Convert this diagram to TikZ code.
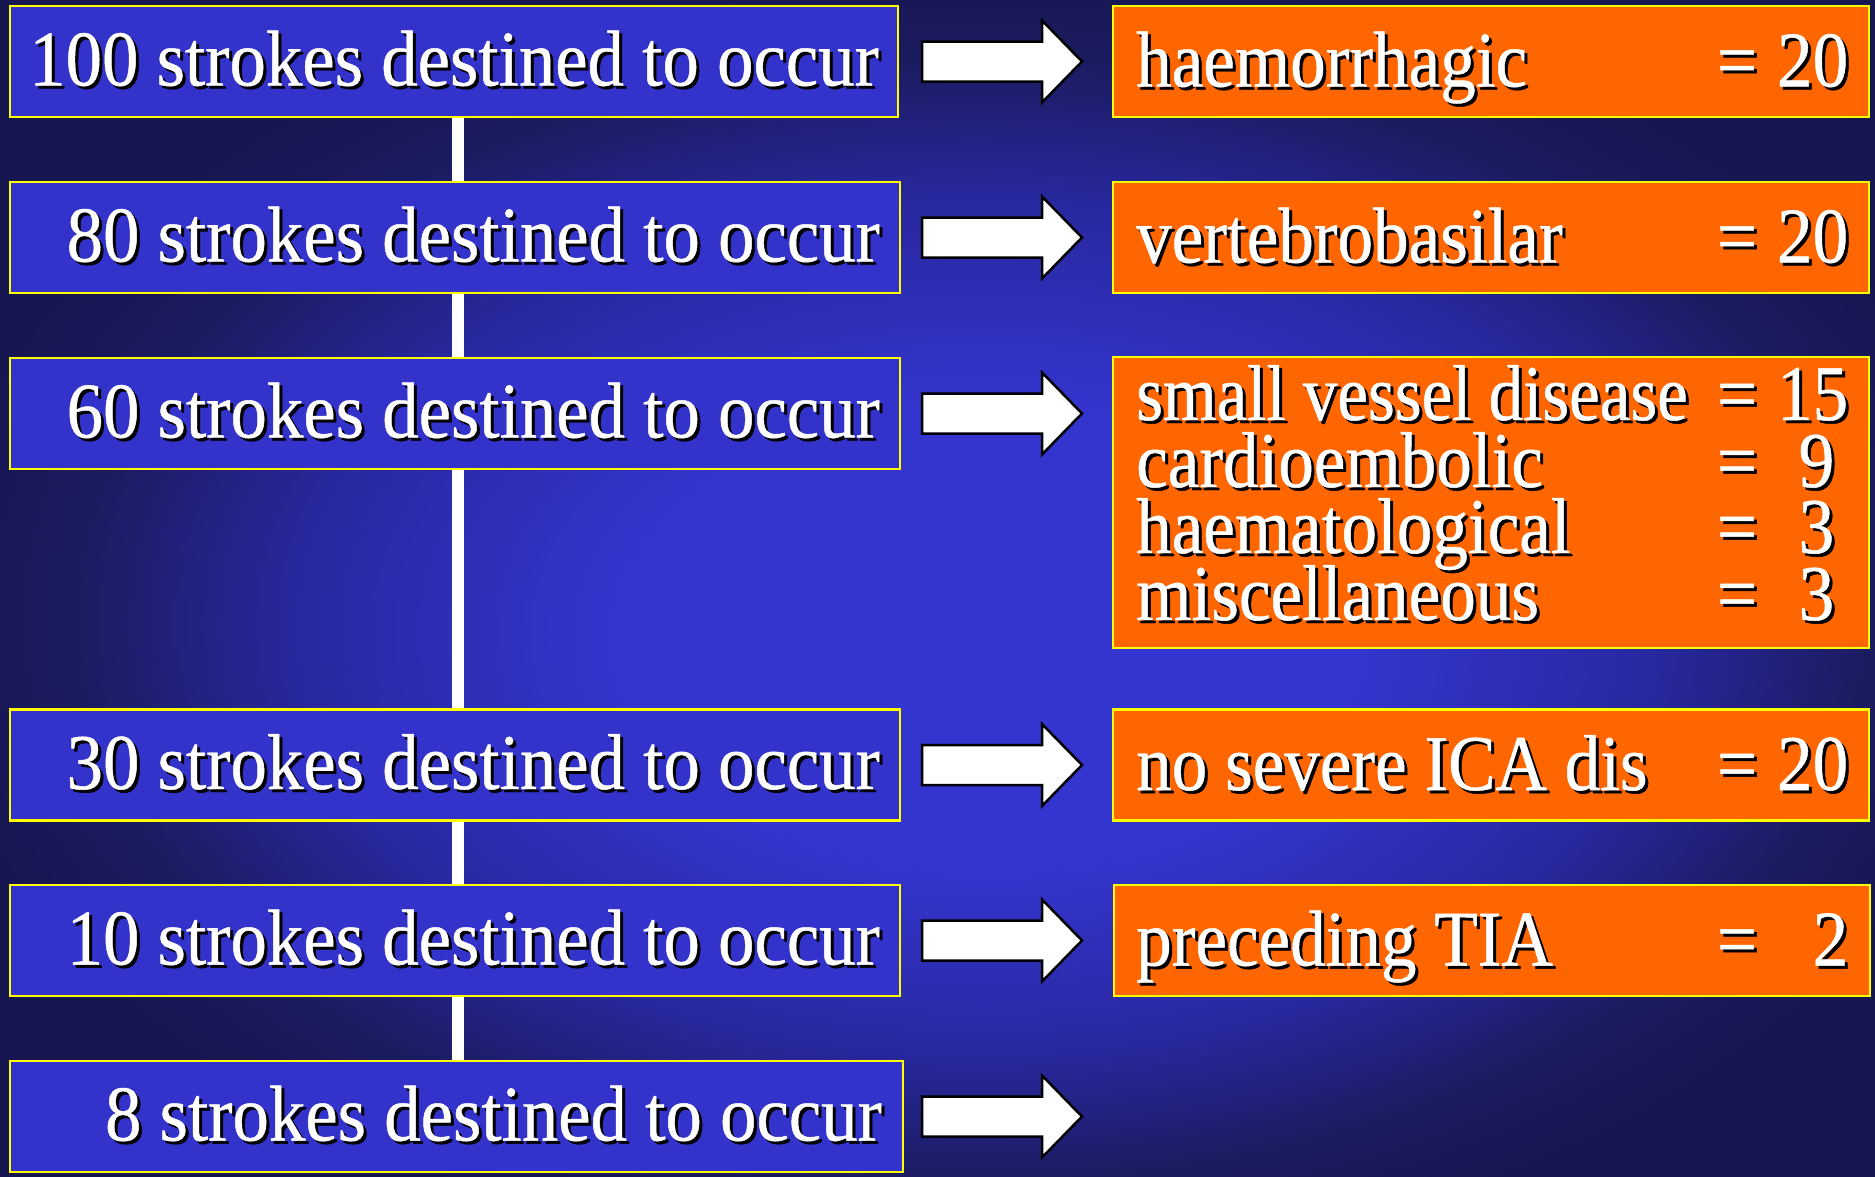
\documentclass[tikz,border=0pt]{standalone}
\usepackage{fontspec}
\setmainfont{Liberation Serif}[FakeStretch=0.9,FakeBold=0.6]
\newfontfamily\bluefont{Liberation Serif}[FakeStretch=0.922,FakeBold=0.6]
\definecolor{boxblue}{HTML}{3333CC}
\definecolor{boxorange}{HTML}{FF6600}
\definecolor{boxyellow}{HTML}{FFFF00}
\definecolor{bgA}{HTML}{3434CE}
\definecolor{bgB}{HTML}{2828A0}
\definecolor{bgC}{HTML}{1B1B60}
\definecolor{bgD}{HTML}{161650}
\pgfdeclareradialshading{bgshade}{\pgfpoint{1.7bp}{-2.6bp}}{color(0bp)=(bgA); color(10bp)=(bgA); color(18bp)=(bgB); color(24bp)=(bgC); color(28bp)=(bgD); color(50bp)=(bgD)}
\pgfdeclarelayer{bglayer}
\pgfsetlayers{bglayer,main}
\newcommand\shd[1]{\makebox[0pt][l]{\hspace*{3pt}\raisebox{-3pt}[0pt][0pt]{\textcolor{black}{#1}}}#1}
\newcommand\orow[3][0pt]{\makebox[712pt][l]{\shd{#2}\hfill\shd{=}\makebox[91pt][r]{\shd{#3}\hspace*{#1}}}}
\tikzset{
  bluebox/.style={draw=boxyellow, line width=2.5pt, fill=boxblue, minimum height=111pt, inner sep=0pt},
  orangebox/.style={draw=boxyellow, line width=2.5pt, fill=boxorange, minimum width=756pt, inner sep=0pt},
  txtstyle/.style={text=white, inner sep=0pt, font=\fontsize{79pt}{66.7pt}\selectfont},
  bluetxt/.style={txtstyle, font=\fontsize{79pt}{66.7pt}\bluefont},
  fatarrow/.style={draw=black, fill=white, line width=2.5pt, line join=miter},
  vline/.style={draw=white, line width=12pt}
}
\newcommand\bigarrow[1]{\draw[fatarrow] (#1) ++(0,-20) -- ++(120,0) -- ++(0,-21) -- ++(40,41) -- ++(-40,41) -- ++(0,-21) -- ++(-120,0) -- cycle;}
\begin{document}
\begin{tikzpicture}[x=1pt,y=-1pt]
\useasboundingbox (0,0) rectangle (1875,1176);
\begin{pgfonlayer}{bglayer}
\shade[shading=bgshade] (0,0) rectangle (1875,1176);
\end{pgfonlayer}
% blue boxes
\node[bluebox, minimum width=888pt] (b1) at (454,61.5) {};
\node[bluebox, minimum width=890pt] (b2) at (455,237.5) {};
\node[bluebox, minimum width=890pt] (b3) at (455,413.5) {};
\node[bluebox, minimum width=890pt] (b4) at (455,765) {};
\node[bluebox, minimum width=890pt] (b5) at (455,940.5) {};
\node[bluebox, minimum width=893pt] (b6) at (456.5,1116.5) {};
% blue texts
\node[bluetxt, anchor=base east] (tb1) at (879,85.5) {\shd{100 strokes destined to occur}};
\node[bluetxt, anchor=base east] (tb2) at (880,261.5) {\shd{80 strokes destined to occur}};
\node[bluetxt, anchor=base east] (tb3) at (880,437.5) {\shd{60 strokes destined to occur}};
\node[bluetxt, anchor=base east] (tb4) at (880,789) {\shd{30 strokes destined to occur}};
\node[bluetxt, anchor=base east] (tb5) at (880,964.5) {\shd{10 strokes destined to occur}};
\node[bluetxt, anchor=base east] (tb6) at (882,1140.5) {\shd{8 strokes destined to occur}};
% orange boxes
\node[orangebox, minimum height=111pt] (o1) at (1491,61.5) {};
\node[orangebox, minimum height=111pt] (o2) at (1491,237.5) {};
\node[orangebox, minimum height=291pt] (o3) at (1491,502.5) {};
\node[orangebox, minimum height=111pt] (o4) at (1491,765) {};
\node[orangebox, minimum height=111pt] (o5) at (1492,940.5) {};
% orange texts
\node[txtstyle, anchor=base west] (to1) at (1136,86.5) {\orow{haemorrhagic}{20}};
\node[txtstyle, anchor=base west] (to2) at (1136,262.5) {\orow{vertebrobasilar}{20}};
\node[txtstyle, anchor=base west] (to3a) at (1136,420) {\orow{\scalebox{0.97}[1]{small vessel disease}}{15}};
\node[txtstyle, anchor=base west] (to3b) at (1136,487) {\orow[14pt]{cardioembolic}{9}};
\node[txtstyle, anchor=base west] (to3c) at (1136,553) {\orow[14pt]{haematological}{3}};
\node[txtstyle, anchor=base west] (to3d) at (1136,620) {\orow[14pt]{miscellaneous}{3}};
\node[txtstyle, anchor=base west] (to4) at (1136,790) {\orow{no severe ICA dis}{20}};
\node[txtstyle, anchor=base west] (to5) at (1136,965.5) {\orow{preceding TIA}{2}};
% arrows
\coordinate (a1) at (922,61.5);
\coordinate (a2) at (922,237.5);
\coordinate (a3) at (922,413.5);
\coordinate (a4) at (922,765);
\coordinate (a5) at (922,940.5);
\coordinate (a6) at (922,1116.5);
\bigarrow{a1}
\bigarrow{a2}
\bigarrow{a3}
\bigarrow{a4}
\bigarrow{a5}
\bigarrow{a6}
% vertical connectors
\begin{pgfonlayer}{bglayer}
\draw[vline] ([xshift=4pt]b1.south) -- ([xshift=3pt]b2.north);
\draw[vline] ([xshift=3pt]b2.south) -- ([xshift=3pt]b3.north);
\draw[vline] ([xshift=3pt]b3.south) -- ([xshift=3pt]b4.north);
\draw[vline] ([xshift=3pt]b4.south) -- ([xshift=3pt]b5.north);
\draw[vline] ([xshift=3pt]b5.south) -- ([xshift=1.5pt]b6.north);
\end{pgfonlayer}
\end{tikzpicture}
\end{document}
